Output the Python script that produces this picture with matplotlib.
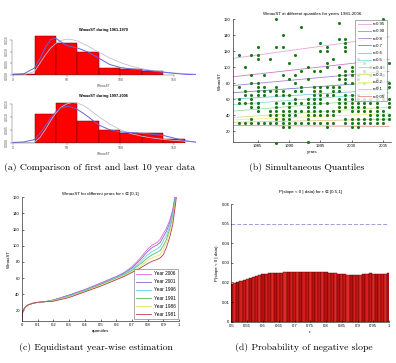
import matplotlib
matplotlib.use("Agg")
import matplotlib.pyplot as plt
import numpy as np

# (a) histograms, first and last decade
hist_top_edges = [0, 20, 40, 60, 80, 100, 120, 140]
hist_top_dens = [0.0004, 0.0168, 0.0135, 0.0100, 0.0029, 0.0026, 0.0017]
hist_bot_edges = [20, 40, 60, 80, 100, 120, 140, 160]
hist_bot_dens = [0.0111, 0.0153, 0.0085, 0.0049, 0.0036, 0.0036, 0.0013]

kde_top_x = [0, 10, 20, 25, 30, 35, 40, 45, 50, 55, 60, 70, 80, 90, 100, 110, 120, 130, 140, 150, 160, 170]
kde_top_y = [0.0002, 0.0005, 0.0030, 0.0070, 0.0118, 0.0152, 0.0156, 0.0140, 0.0126, 0.0120, 0.0115, 0.0098,
             0.0072, 0.0045, 0.0032, 0.0026, 0.0022, 0.0017, 0.0012, 0.0007, 0.0003, 0.0001]
fit_top_x = [0, 10, 20, 25, 30, 35, 40, 45, 50, 55, 60, 70, 80, 90, 100, 110, 120, 130, 140, 150, 160, 170]
fit_top_y = [0, 0.0001, 0.0015, 0.0050, 0.0085, 0.0115, 0.0135, 0.0148, 0.0153, 0.0151, 0.0145, 0.0123,
             0.0097, 0.0073, 0.0053, 0.0038, 0.0027, 0.0019, 0.0013, 0.0009, 0.0006, 0.0004]
kde_bot_x = [0, 10, 20, 25, 30, 35, 40, 45, 50, 55, 60, 65, 70, 80, 90, 100, 110, 120, 130, 140, 150, 160, 170]
kde_bot_y = [0.0001, 0.0003, 0.0012, 0.0035, 0.0065, 0.0095, 0.0120, 0.0135, 0.0140, 0.0137, 0.0128, 0.0115,
             0.0100, 0.0068, 0.0050, 0.0042, 0.0039, 0.0036, 0.0033, 0.0028, 0.0018, 0.0008, 0.0002]
fit_bot_x = [0, 10, 20, 25, 30, 35, 40, 45, 50, 55, 60, 65, 70, 80, 90, 100, 110, 120, 130, 140, 150, 160, 170]
fit_bot_y = [0, 0, 0.0002, 0.0020, 0.0050, 0.0085, 0.0115, 0.0138, 0.0150, 0.0155, 0.0153, 0.0145,
             0.0132, 0.0100, 0.0072, 0.0050, 0.0035, 0.0025, 0.0018, 0.0013, 0.0009, 0.0006, 0.0004]

# (b) scatter + quantile lines
scatter_years = list(range(1982, 2007))
scatter_vals = [
    [115, 75, 60, 55, 30],
    [100, 70, 65, 55, 30],
    [115, 90, 80, 65, 60, 55, 50, 35, 30],
    [125, 115, 110, 80, 75, 70, 65, 55, 50, 45, 30],
    [90, 75, 70, 65, 30],
    [110, 70, 45, 40, 30],
    [160, 125, 75, 70, 65, 55, 50, 45, 40, 35, 30, 5],
    [140, 125, 90, 70, 65, 55, 45, 40, 35, 30, 25],
    [105, 85, 65, 55, 50, 45, 40, 35, 30, 25],
    [115, 90, 80, 70, 60, 55, 45, 40, 30],
    [150, 95, 75, 70, 55, 45, 30],
    [100, 85, 60, 55, 50, 45, 40, 35, 30, 7],
    [95, 75, 70, 65, 60, 55, 50, 45, 40, 30],
    [130, 120, 95, 75, 70, 65, 60, 55, 45, 40, 30],
    [125, 120, 105, 100, 75, 65, 55, 45, 40, 30, 25],
    [110, 75, 70, 65, 45, 40, 30],
    [155, 135, 100, 90, 85, 75, 70, 60, 55, 50, 45],
    [135, 130, 125, 120, 95, 90, 85, 80, 65, 60, 55, 50, 35, 30],
    [100, 95, 90, 80, 65, 60, 55, 50, 45, 35, 30, 25],
    [110, 90, 85, 65, 60, 55, 50, 45, 35, 30, 25],
    [105, 95, 80, 60, 55, 50, 45, 35, 30],
    [100, 90, 60, 55, 45, 40, 35, 30],
    [95, 85, 75, 60, 55, 50, 45, 40, 35, 30],
    [160, 100, 90, 65, 60, 45, 40, 35, 30],
    [105, 80, 75, 60, 55, 50, 40, 35],
]
q_taus = ["0.95", "0.90", "0.8", "0.7", "0.6", "0.5", "0.4", "0.3", "0.2", "0.1", "0.05"]
q_at_1981 = [111, 88, 77, 68, 60, 53, 45, 37, 34, 31, 27]
q_at_2006 = [138, 110, 95, 82, 72, 68, 61, 50, 42, 35, 26]
q_colors = ["#e6a6d4", "#d474d0", "#a688d4", "#7486bc", "#86c4e2", "#86e2d4",
            "#96e29a", "#cce884", "#f2f07e", "#e4c482", "#e48a8a"]

# (c) year-wise quantile curves
c_tau = [0, 0.003, 0.01, 0.02, 0.04, 0.07, 0.1, 0.15, 0.2, 0.3, 0.4, 0.5, 0.6, 0.65, 0.7,
         0.75, 0.8, 0.83, 0.86, 0.88, 0.9, 0.92, 0.94, 0.96, 0.97, 0.98, 0.99]
c_labels = ["Year 2006", "Year 2001", "Year 1996", "Year 1991", "Year 1986", "Year 1981"]
c_curves = [
    [7, 17, 21, 24, 27, 29, 30, 31, 33, 39, 46, 54, 62, 67, 74, 84, 96, 101, 104, 108, 115, 122, 131, 145, 157, 172, 190],
    [7, 17, 21, 24, 27, 29, 30, 31, 33, 39, 45.5, 53, 61.5, 66, 72.5, 82, 93, 98, 101, 104, 111, 118, 128, 142, 154, 168, 185],
    [7, 17, 21, 24, 27, 29, 30, 31, 32.5, 38, 45, 52.5, 61, 65, 71, 79, 89, 93, 96, 99, 106, 113, 124, 139, 151, 165, 182],
    [7, 17, 21, 24, 27, 29, 30, 31, 32, 37.5, 44, 52, 60, 64, 69.5, 77, 85, 89, 92, 94, 100, 108, 120, 135, 148, 162, 180],
    [7, 17, 21, 24, 27, 29, 30, 31, 32, 37, 43.5, 51, 59, 63, 68, 74, 82, 85, 87.5, 89, 95, 104, 116, 131, 145, 159, 178],
    [7, 17, 21, 24, 27, 29, 30, 31, 31.5, 36, 43, 50, 58, 62, 67, 72, 78, 81, 83, 85, 89, 98, 110, 126, 140, 155, 175],
]
c_colors = ["#e266dc", "#8e62cc", "#62d2e2", "#52bc6e", "#e8e262", "#b43c5c"]

# (d) probability of negative slope
d_tau = np.round(np.arange(0.5, 1.0001, 0.01), 2)
d_prob = [0.0193, 0.0198, 0.0203, 0.0207, 0.0211, 0.0217, 0.0223, 0.0228, 0.0233, 0.0236,
          0.0244, 0.0245, 0.0246, 0.0246, 0.0247, 0.0249, 0.0250, 0.0251,
          0.0252, 0.0252, 0.0252, 0.0252, 0.0252, 0.0252, 0.0252, 0.0252, 0.0252, 0.0252, 0.0252,
          0.0251, 0.0251, 0.0250, 0.0250, 0.0248, 0.0244, 0.0242, 0.0241, 0.0239, 0.0236, 0.0236,
          0.0237, 0.0239, 0.0242, 0.0244, 0.0246, 0.0244, 0.0241, 0.0242, 0.0244, 0.0245, 0.0247]
d_level = 0.05

W, H = 396, 363
TICK = 3.0
SANS = ["Liberation Sans", "DejaVu Sans"]
SERIF = "cmr10"

fig = plt.figure(figsize=(W / 100, H / 100), dpi=100)


def frac(left, top, right, bottom):
    return [left / W, 1 - bottom / H, (right - left) / W, (bottom - top) / H]


def r_hist(rect, edges, dens, kx, ky, fx, fy, title, ytop):
    ax = fig.add_axes(rect)
    ax.bar(edges[:-1], dens, width=np.diff(edges), align="edge", color="#ff0000",
           edgecolor="#6a0000", linewidth=0.35)
    ax.plot(fx, fy, color="#c6bed6", lw=0.6)
    ax.plot(kx, ky, color="#6464dc", lw=0.7)
    ax.set_xlim(-1, 170)
    ax.set_ylim(0, ytop)
    for s in ["top", "right"]:
        ax.spines[s].set_visible(False)
    for s in ["left", "bottom"]:
        ax.spines[s].set_linewidth(0.3)
        ax.spines[s].set_color("#555555")
    ax.spines["bottom"].set_bounds(0, 150)
    ax.spines["left"].set_bounds(0, 0.015)
    ax.set_xticks([0, 50, 100, 150])
    ax.set_yticks([0, 0.005, 0.010, 0.015])
    ax.set_yticklabels(["0.000", "0.005", "0.010", "0.015"], rotation=90, va="center")
    ax.tick_params(labelsize=2.2, length=1.2, width=0.3, pad=1, colors="#444444")
    ax.set_title(title, fontsize=2.8, fontweight="bold", pad=2, family=SANS)
    ax.set_xlabel("WmaxST", fontsize=2.2, labelpad=1.5, color="#444444")
    return ax


r_hist(frac(12, 34, 195.5, 75), hist_top_edges, hist_top_dens, kde_top_x, kde_top_y,
       fit_top_x, fit_top_y, "WmaxST during 1961-1970", 0.0175)
r_hist(frac(12, 100, 195.5, 142.7), hist_bot_edges, hist_bot_dens, kde_bot_x, kde_bot_y,
       fit_bot_x, fit_bot_y, "WmaxST during 1997-2006", 0.0165)


def matlab_axes(ax):
    for s in ["top", "right"]:
        ax.spines[s].set_visible(False)
    for s in ["left", "bottom"]:
        ax.spines[s].set_linewidth(0.4)
    ax.tick_params(direction="in", labelsize=TICK, length=1.5, width=0.4, pad=1.5)
    for lab in ax.get_xticklabels() + ax.get_yticklabels():
        lab.set_family(SANS)


# (b)
axb = fig.add_axes(frac(232.6, 19.3, 391, 142.3))
for c, t, y0, y1 in zip(q_colors, q_taus, q_at_1981, q_at_2006):
    axb.plot([1981, 2006], [y0, y1], color=c, lw=0.6, label="\u03c4=" + t)
for yr, vals in zip(scatter_years, scatter_vals):
    axb.scatter([yr] * len(vals), vals, s=5, color="#1b7a1b", linewidths=0, zorder=3, clip_on=False)
axb.set_xlim(1981, 2006.3)
axb.set_ylim(6, 160)
axb.set_xticks([1985, 1990, 1995, 2000, 2005])
axb.set_yticks(range(20, 161, 20))
matlab_axes(axb)
axb.set_title("WmaxST at different quantiles for years 1981-2006", fontsize=3.2, pad=3, family=SANS)
axb.set_xlabel("years", fontsize=3.2, labelpad=1.5, family=SANS)
axb.set_ylabel("WmaxST", fontsize=3.2, labelpad=1.5, family=SANS)
leg = axb.legend(loc="upper right", bbox_to_anchor=(0.977, 0.994), frameon=True,
                 prop={"family": SANS, "size": 3.1},
                 fancybox=False, handlelength=3.2, handletextpad=0.4, borderpad=0.5,
                 labelspacing=0.75, borderaxespad=0)
leg.get_frame().set_linewidth(0.4)
leg.get_frame().set_edgecolor("#444444")
leg.set_zorder(5)

# (c)
axc = fig.add_axes(frac(22, 197.3, 179, 321))
for c, lab, ys in zip(c_colors, c_labels, c_curves):
    axc.plot(c_tau, ys, color=c, lw=0.6, label=lab)
axc.set_xlim(0, 1)
axc.set_ylim(7, 160)
axc.set_xticks(np.round(np.arange(0, 1.01, 0.1), 1))
axc.set_xticklabels(["0", "0.1", "0.2", "0.3", "0.4", "0.5", "0.6", "0.7", "0.8", "0.9", "1"])
axc.set_yticks(range(20, 161, 20))
matlab_axes(axc)
axc.set_title("WmaxST for different years for \u03c4 \u2208 [0,1]", fontsize=3.2, pad=2, family=SANS)
axc.set_xlabel("quantiles", fontsize=3.2, labelpad=1.5, family=SANS)
axc.set_ylabel("WmaxST", fontsize=3.2, labelpad=1.5, family=SANS)
legc = axc.legend(loc="lower right", bbox_to_anchor=(0.994, 0.016), frameon=True,
                  prop={"family": SANS, "size": 3.4},
                  fancybox=False, handlelength=3.2, handletextpad=0.5, borderpad=0.5,
                  labelspacing=0.65, borderaxespad=0)
legc.get_frame().set_linewidth(0.4)
legc.get_frame().set_edgecolor("#444444")

# (d)
axd = fig.add_axes(frac(231.5, 204, 389, 321.7))
bar_cols = ["#c81616", "#e02a2a", "#b41010", "#d41e1e"]
axd.bar(d_tau, d_prob, width=0.01, color=[bar_cols[i % 4] for i in range(len(d_tau))],
        edgecolor="#5a0000", linewidth=0.3)
axd.axhline(d_level, color="#9c9cda", lw=0.7, ls="--", dashes=(4, 2))
axd.set_xlim(0.5, 1)
axd.set_ylim(0, 0.06)
axd.set_xticks(np.round(np.arange(0.5, 1.001, 0.05), 2))
axd.set_xticklabels(["0.5", "0.55", "0.6", "0.65", "0.7", "0.75", "0.8", "0.85", "0.9", "0.95", "1"])
axd.set_yticks(np.round(np.arange(0, 0.061, 0.01), 2))
axd.set_yticklabels(["0", "0.01", "0.02", "0.03", "0.04", "0.05", "0.06"])
matlab_axes(axd)
axd.set_title("P(slope < 0 | data) for \u03c4 \u2208 [0.5,1]", fontsize=3.2, pad=8, family=SANS)
axd.set_xlabel("\u03c4", fontsize=3.2, labelpad=1.5, family=SANS)
axd.set_ylabel("P(slope < 0 | data)", fontsize=3.2, labelpad=1.5, family=SANS)

# captions
caps = [
    (100, 167, "(a) Comparison of first and last 10 year data"),
    (307, 168, "(b) Simultaneous Quantiles"),
    (96, 347, "(c) Equidistant year-wise estimation"),
    (304, 347, "(d) Probability of negative slope"),
]
for x, y, txt in caps:
    fig.text(x / W, 1 - y / H, txt, fontsize=7.0, family=SERIF, ha="center", va="center")

fig.savefig("out.png", dpi=100)
